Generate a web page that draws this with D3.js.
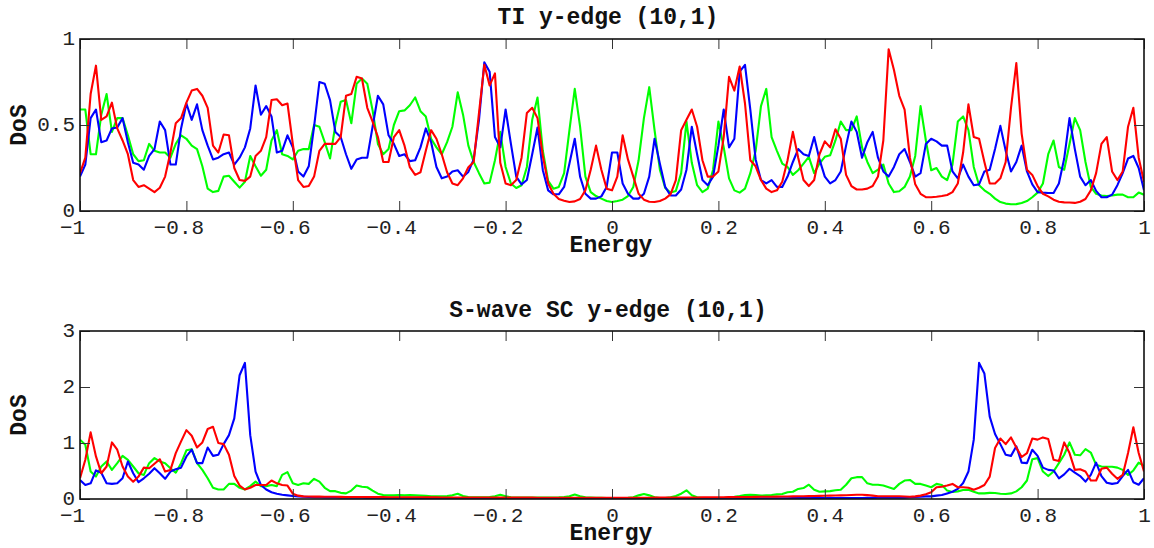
<!DOCTYPE html>
<html>
<head>
<meta charset="utf-8">
<script src="https://cdn.jsdelivr.net/npm/d3@7"></script>
<style>
  html, body { margin: 0; padding: 0; background: #ffffff; }
  svg { display: block; }
  .tick text { font-family: "Liberation Mono", "Courier New", monospace; font-size: 21px; fill: #222; }
  .ttl { font-family: "Liberation Mono", "Courier New", monospace; font-size: 23px; font-weight: bold; fill: #111; }
</style>
</head>
<body>
<svg id="chart" width="1154" height="548"></svg>
<script>
// Energy grid, step 0.01 from -1 to 1
const energy = d3.range(201).map(i => +(-1 + i * 0.01).toFixed(2));

const xTicks = [-1, -0.8, -0.6, -0.4, -0.2, 0, 0.2, 0.4, 0.6, 0.8, 1];
const xTickLabels = ["\u22121", "\u22120.8", "\u22120.6", "\u22120.4", "\u22120.2", "0", "0.2", "0.4", "0.6", "0.8", "1"];
const tiYTicks = [0, 0.5, 1];
const tiYTickLabels = ["0", "0.5", "1"];
const scYTicks = [0, 1, 2, 3];
const scYTickLabels = ["0", "1", "2", "3"];

// TI y-edge (10,1) density of states
const tiRed = [
  0.22,0.31,0.68,0.845,0.53,0.55,0.63,0.48,0.41,0.33,
  0.18,0.14,0.15,0.13,0.11,0.135,0.20,0.34,0.51,0.54,
  0.63,0.70,0.71,0.67,0.60,0.38,0.34,0.445,0.44,0.25,
  0.18,0.175,0.20,0.32,0.35,0.43,0.645,0.65,0.615,0.625,
  0.39,0.18,0.14,0.145,0.20,0.35,0.39,0.39,0.39,0.43,
  0.67,0.68,0.78,0.77,0.60,0.52,0.43,0.285,0.285,0.43,
  0.47,0.38,0.255,0.21,0.225,0.35,0.47,0.42,0.33,0.225,
  0.16,0.15,0.19,0.255,0.285,0.57,0.85,0.73,0.80,0.28,
  0.16,0.15,0.18,0.31,0.57,0.60,0.54,0.32,0.16,0.10,
  0.07,0.06,0.052,0.056,0.07,0.12,0.24,0.38,0.24,0.13,
  0.12,0.20,0.44,0.30,0.20,0.10,0.066,0.054,0.052,0.058,
  0.072,0.097,0.18,0.47,0.53,0.59,0.49,0.295,0.20,0.20,
  0.23,0.43,0.78,0.70,0.84,0.625,0.295,0.26,0.18,0.13,
  0.11,0.12,0.17,0.295,0.46,0.31,0.18,0.145,0.18,0.33,
  0.405,0.37,0.475,0.42,0.21,0.145,0.125,0.125,0.13,0.145,
  0.20,0.41,0.94,0.82,0.67,0.59,0.31,0.155,0.10,0.08,
  0.08,0.083,0.087,0.093,0.11,0.16,0.34,0.62,0.43,0.42,
  0.285,0.16,0.16,0.19,0.285,0.60,0.86,0.45,0.24,0.21,
  0.145,0.10,0.085,0.066,0.054,0.05,0.049,0.047,0.054,0.07,
  0.12,0.22,0.39,0.43,0.23,0.18,0.23,0.49,0.60,0.31,
  0.17
];
const tiGreen = [
  0.59,0.59,0.33,0.33,0.56,0.68,0.46,0.54,0.54,0.44,
  0.33,0.29,0.295,0.39,0.35,0.34,0.34,0.31,0.39,0.44,
  0.42,0.38,0.36,0.26,0.13,0.11,0.117,0.20,0.205,0.17,
  0.136,0.17,0.32,0.26,0.205,0.24,0.41,0.47,0.33,0.32,
  0.30,0.35,0.36,0.36,0.50,0.49,0.40,0.305,0.50,0.635,
  0.645,0.51,0.74,0.77,0.74,0.585,0.39,0.33,0.36,0.50,
  0.58,0.585,0.615,0.66,0.58,0.55,0.42,0.37,0.33,0.40,
  0.49,0.69,0.56,0.38,0.285,0.22,0.16,0.165,0.295,0.46,
  0.256,0.16,0.134,0.15,0.256,0.53,0.66,0.35,0.175,0.13,
  0.14,0.22,0.47,0.71,0.49,0.20,0.11,0.087,0.072,0.058,
  0.052,0.058,0.066,0.087,0.14,0.295,0.54,0.72,0.47,0.24,
  0.134,0.107,0.117,0.22,0.52,0.28,0.15,0.11,0.13,0.24,
  0.52,0.37,0.19,0.12,0.107,0.13,0.22,0.35,0.61,0.71,
  0.43,0.35,0.276,0.256,0.21,0.237,0.276,0.315,0.22,0.276,
  0.315,0.324,0.41,0.52,0.47,0.47,0.55,0.37,0.285,0.22,
  0.24,0.27,0.16,0.11,0.115,0.14,0.20,0.32,0.61,0.41,
  0.237,0.25,0.20,0.18,0.27,0.52,0.55,0.47,0.256,0.15,
  0.12,0.10,0.072,0.052,0.043,0.039,0.04,0.047,0.058,0.08,
  0.107,0.16,0.33,0.41,0.256,0.24,0.39,0.54,0.47,0.285,
  0.14,0.10,0.09,0.087,0.09,0.095,0.095,0.08,0.08,0.107,
  0.095
];
const tiBlue = [
  0.20,0.27,0.54,0.59,0.40,0.41,0.48,0.485,0.54,0.40,
  0.28,0.27,0.24,0.32,0.36,0.52,0.47,0.27,0.27,0.48,
  0.625,0.53,0.62,0.47,0.38,0.30,0.31,0.33,0.34,0.27,
  0.31,0.37,0.48,0.73,0.56,0.61,0.55,0.34,0.35,0.44,
  0.37,0.23,0.20,0.26,0.49,0.75,0.74,0.645,0.46,0.43,
  0.33,0.245,0.30,0.31,0.31,0.49,0.67,0.62,0.44,0.39,
  0.32,0.33,0.29,0.295,0.37,0.48,0.40,0.256,0.19,0.20,
  0.23,0.237,0.20,0.227,0.30,0.53,0.864,0.81,0.43,0.37,
  0.59,0.39,0.20,0.155,0.18,0.33,0.485,0.237,0.12,0.097,
  0.097,0.14,0.276,0.42,0.20,0.10,0.072,0.072,0.085,0.14,
  0.34,0.34,0.16,0.10,0.072,0.072,0.10,0.20,0.42,0.275,
  0.14,0.09,0.09,0.125,0.24,0.49,0.33,0.18,0.15,0.20,
  0.38,0.59,0.37,0.42,0.81,0.85,0.59,0.30,0.18,0.16,
  0.18,0.14,0.14,0.20,0.285,0.36,0.33,0.32,0.43,0.30,
  0.20,0.16,0.18,0.23,0.38,0.52,0.46,0.31,0.40,0.46,
  0.31,0.23,0.20,0.256,0.33,0.36,0.285,0.20,0.22,0.39,
  0.42,0.405,0.38,0.38,0.23,0.19,0.27,0.20,0.15,0.155,
  0.23,0.24,0.36,0.495,0.35,0.23,0.285,0.38,0.23,0.155,
  0.11,0.107,0.105,0.105,0.16,0.305,0.54,0.36,0.20,0.15,
  0.18,0.117,0.08,0.08,0.095,0.15,0.22,0.305,0.32,0.25,
  0.12
];

// S-wave SC y-edge (10,1) density of states
const scBlue = [
  0.34,0.25,0.28,0.51,0.47,0.28,0.27,0.28,0.37,0.67,
  0.46,0.30,0.37,0.45,0.55,0.46,0.36,0.49,0.53,0.56,
  0.76,0.88,0.64,0.64,0.92,0.77,0.79,0.98,1.14,1.44,
  2.21,2.43,1.14,0.49,0.25,0.17,0.12,0.095,0.077,0.065,
  0.053,0.047,0.04,0.035,0.032,0.030,0.028,0.027,0.026,0.025,
  0.024,0.023,0.022,0.021,0.020,0.020,0.019,0.018,0.018,0.017,
  0.017,0.016,0.016,0.015,0.015,0.015,0.014,0.014,0.014,0.013,
  0.013,0.013,0.013,0.012,0.012,0.012,0.012,0.012,0.011,0.011,
  0.011,0.011,0.011,0.011,0.010,0.010,0.010,0.010,0.010,0.010,
  0.010,0.010,0.010,0.010,0.010,0.010,0.010,0.010,0.010,0.010,
  0.010,0.010,0.010,0.010,0.010,0.010,0.010,0.010,0.010,0.010,
  0.011,0.011,0.011,0.011,0.011,0.011,0.011,0.011,0.011,0.012,
  0.012,0.012,0.012,0.012,0.012,0.013,0.013,0.013,0.013,0.013,
  0.014,0.014,0.014,0.014,0.015,0.015,0.015,0.016,0.016,0.016,
  0.017,0.017,0.017,0.018,0.018,0.018,0.019,0.019,0.020,0.020,
  0.021,0.021,0.022,0.022,0.023,0.024,0.03,0.036,0.04,0.047,
  0.047,0.06,0.07,0.10,0.13,0.18,0.285,0.49,1.06,2.43,
  2.24,1.47,1.16,0.98,0.79,0.77,0.94,0.65,0.64,0.88,
  0.77,0.56,0.52,0.51,0.37,0.44,0.54,0.47,0.41,0.31,
  0.43,0.65,0.41,0.29,0.27,0.285,0.41,0.52,0.30,0.255,
  0.37
];
const scRed = [
  0.37,0.70,1.19,0.76,0.46,0.58,1.01,0.88,0.58,0.40,
  0.31,0.40,0.56,0.55,0.63,0.71,0.49,0.52,0.82,1.03,
  1.23,1.13,0.92,1.01,1.25,1.29,1.00,0.98,0.79,0.41,
  0.24,0.17,0.20,0.25,0.25,0.25,0.33,0.28,0.25,0.24,
  0.095,0.06,0.047,0.045,0.043,0.042,0.041,0.040,0.039,0.038,
  0.037,0.036,0.035,0.035,0.034,0.034,0.033,0.033,0.032,0.032,
  0.031,0.031,0.030,0.030,0.030,0.029,0.029,0.029,0.028,0.028,
  0.028,0.027,0.027,0.027,0.026,0.026,0.026,0.026,0.025,0.025,
  0.025,0.025,0.024,0.024,0.024,0.024,0.023,0.023,0.023,0.023,
  0.022,0.022,0.022,0.022,0.022,0.021,0.021,0.021,0.021,0.021,
  0.021,0.021,0.021,0.022,0.022,0.022,0.023,0.023,0.024,0.024,
  0.025,0.025,0.026,0.026,0.027,0.028,0.028,0.029,0.030,0.030,
  0.031,0.032,0.033,0.034,0.035,0.036,0.037,0.038,0.039,0.040,
  0.041,0.042,0.044,0.045,0.047,0.048,0.050,0.052,0.054,0.056,
  0.058,0.060,0.062,0.065,0.068,0.072,0.075,0.077,0.070,0.060,
  0.05,0.05,0.05,0.05,0.05,0.045,0.04,0.047,0.06,0.083,
  0.12,0.21,0.22,0.24,0.27,0.21,0.21,0.20,0.166,0.20,
  0.25,0.40,0.91,1.08,0.98,1.10,0.92,0.75,0.82,1.08,
  1.06,1.10,1.07,0.70,0.68,1.01,0.82,0.52,0.53,0.49,
  0.33,0.33,0.54,0.56,0.45,0.36,0.43,0.82,1.28,0.82,
  0.49
];
const scGreen = [
  1.06,0.97,0.49,0.40,0.58,0.67,0.52,0.64,0.77,0.70,
  0.58,0.46,0.43,0.64,0.73,0.67,0.64,0.55,0.47,0.64,
  0.87,0.89,0.64,0.52,0.37,0.20,0.17,0.17,0.27,0.27,
  0.20,0.17,0.23,0.31,0.23,0.23,0.25,0.23,0.43,0.48,
  0.28,0.25,0.28,0.27,0.36,0.31,0.20,0.14,0.14,0.11,
  0.10,0.15,0.24,0.22,0.21,0.15,0.095,0.07,0.065,0.065,
  0.07,0.065,0.07,0.065,0.06,0.055,0.047,0.047,0.047,0.053,
  0.065,0.095,0.053,0.035,0.03,0.03,0.03,0.035,0.047,0.077,
  0.047,0.03,0.028,0.026,0.025,0.025,0.025,0.025,0.026,0.028,
  0.03,0.035,0.05,0.08,0.05,0.03,0.025,0.02,0.02,0.018,
  0.01,0.01,0.015,0.02,0.03,0.065,0.09,0.065,0.03,0.018,
  0.018,0.03,0.053,0.095,0.155,0.065,0.03,0.018,0.012,0.012,
  0.012,0.018,0.03,0.04,0.053,0.07,0.077,0.07,0.06,0.065,
  0.07,0.083,0.09,0.12,0.13,0.18,0.195,0.255,0.166,0.13,
  0.136,0.14,0.155,0.166,0.255,0.37,0.39,0.39,0.28,0.255,
  0.255,0.24,0.21,0.18,0.27,0.33,0.34,0.27,0.27,0.24,
  0.21,0.27,0.25,0.15,0.125,0.136,0.16,0.166,0.13,0.10,
  0.10,0.11,0.107,0.095,0.09,0.10,0.136,0.21,0.33,0.71,
  0.73,0.49,0.41,0.49,0.64,0.79,1.01,0.79,0.78,0.89,
  0.83,0.61,0.58,0.575,0.575,0.56,0.52,0.43,0.51,0.65,
  0.59
];

const panels = [
  {
    title: "TI y-edge (10,1)", top: 39, bottom: 211, yMax: 1,
    yTicks: tiYTicks, yTickLabels: tiYTickLabels, titleY: 23.5,
    series: [
      { values: tiGreen, color: "#00ff00" },
      { values: tiBlue, color: "#0000ff" },
      { values: tiRed, color: "#ff0000" }
    ]
  },
  {
    title: "S-wave SC y-edge (10,1)", top: 331, bottom: 499, yMax: 3,
    yTicks: scYTicks, yTickLabels: scYTickLabels, titleY: 316.5,
    series: [
      { values: scGreen, color: "#00ff00" },
      { values: scBlue, color: "#0000ff" },
      { values: scRed, color: "#ff0000" }
    ]
  }
];

const svg = d3.select("#chart");
const left = 80, right = 1144;
const x = d3.scaleLinear().domain([-1, 1]).range([left, right]);

panels.forEach((p, pi) => {
  const y = d3.scaleLinear().domain([0, p.yMax]).range([p.bottom, p.top]);
  const g = svg.append("g");

  const clipId = "clip" + pi;
  svg.append("clipPath").attr("id", clipId)
    .append("rect").attr("x", left).attr("y", p.top)
    .attr("width", right - left).attr("height", p.bottom - p.top);

  // curves
  const line = d3.line()
    .x((d, i) => x(energy[i]))
    .y(d => y(d));
  const lines = g.append("g").attr("clip-path", `url(#${clipId})`);
  p.series.forEach(s => {
    lines.append("path")
      .datum(s.values)
      .attr("fill", "none")
      .attr("stroke", s.color)
      .attr("stroke-width", 2.1)
      .attr("stroke-linejoin", "round")
      .attr("d", line);
  });

  // inward ticks on all four sides
  const styleAxis = sel => {
    sel.select(".domain").remove();
    sel.selectAll(".tick line").attr("stroke", "#333").attr("stroke-width", 1);
  };
  g.append("g").attr("transform", `translate(0,${p.bottom})`)
    .call(d3.axisBottom(x).tickValues(xTicks).tickSize(-10).tickPadding(8)
      .tickFormat((d, i) => xTickLabels[i]))
    .call(styleAxis)
    .call(sel => sel.selectAll(".tick text")
      .attr("dx", d => d < 0 ? -8 : 0));
  g.append("g").attr("transform", `translate(0,${p.top})`)
    .call(d3.axisTop(x).tickValues(xTicks).tickSize(-10).tickFormat(""))
    .call(styleAxis);
  g.append("g").attr("transform", `translate(${left},0)`)
    .call(d3.axisLeft(y).tickValues(p.yTicks).tickSize(-10).tickPadding(5)
      .tickFormat((d, i) => p.yTickLabels[i]))
    .call(styleAxis)
    .call(sel => sel.selectAll(".tick text").attr("dy", "0.28em"));
  g.append("g").attr("transform", `translate(${right},0)`)
    .call(d3.axisRight(y).tickValues(p.yTicks).tickSize(-10).tickFormat(""))
    .call(styleAxis);

  // frame
  g.append("rect")
    .attr("x", left).attr("y", p.top)
    .attr("width", right - left).attr("height", p.bottom - p.top)
    .attr("fill", "none").attr("stroke", "#111").attr("stroke-width", 1.6);

  // texts
  g.append("text").attr("class", "ttl")
    .attr("x", 608).attr("y", p.titleY)
    .attr("text-anchor", "middle").text(p.title);
  g.append("text").attr("class", "ttl")
    .attr("x", 611).attr("y", p.bottom + 41)
    .attr("text-anchor", "middle").text("Energy");
  g.append("text").attr("class", "ttl")
    .attr("transform", `translate(26,${(p.top + p.bottom) / 2}) rotate(-90)`)
    .attr("text-anchor", "middle").text("DoS");
});
</script>
</body>
</html>
